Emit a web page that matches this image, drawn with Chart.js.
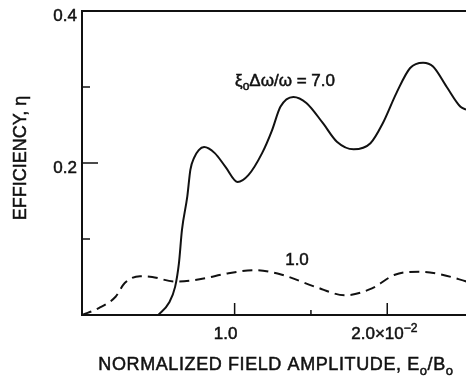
<!DOCTYPE html>
<html>
<head>
<meta charset="utf-8">
<script src="https://cdn.jsdelivr.net/npm/chart.js@4/dist/chart.umd.min.js"></script>
<style>
  html, body { margin: 0; padding: 0; background: #fff; }
  canvas { display: block; }
</style>
</head>
<body>
<canvas id="myChart" width="466" height="379"></canvas>
<script>
// field amplitude E0/B0 (x 10^-2) and efficiency for the two curves
const xHigh = [0.50, 0.57, 0.61, 0.635, 0.655, 0.69, 0.71, 0.735, 0.765, 0.80, 0.87, 0.94, 1.02, 1.09, 1.18, 1.245, 1.30, 1.385, 1.47, 1.58, 1.67, 1.78, 1.89, 1.97, 2.06, 2.15, 2.235, 2.30, 2.39, 2.48, 2.52]
const etaHigh = [0.0, 0.016, 0.037, 0.068, 0.112, 0.156, 0.191, 0.207, 0.217, 0.221, 0.213, 0.195, 0.175, 0.184, 0.213, 0.243, 0.274, 0.287, 0.279, 0.252, 0.228, 0.218, 0.226, 0.252, 0.292, 0.325, 0.332, 0.327, 0.300, 0.274, 0.270]

const xLow = [0.0, 0.11, 0.22, 0.28, 0.38, 0.46, 0.61, 0.77, 0.96, 1.14, 1.31, 1.53, 1.725, 1.90, 2.05, 2.21, 2.36, 2.52]
const etaLow = [0.0, 0.009, 0.024, 0.042, 0.051, 0.050, 0.044, 0.047, 0.055, 0.059, 0.053, 0.037, 0.026, 0.035, 0.053, 0.057, 0.053, 0.044]

// axis ticks
const yMajorTicks = [0.2, 0.4]
const yMajorLabels = ['0.2', '0.4']
const yMinorTicks = [0.1, 0.3]
const xMajorTicks = [1.0, 2.0]
const xMinorTicks = [1.5]

const FONT = '"Liberation Sans", Arial, sans-serif'

function toPoints(xs, ys) {
  return xs.map((x, i) => ({ x: x, y: ys[i] }))
}

// draws a run of text pieces, some of them sub/superscript
function drawParts(ctx, parts, x, y, align) {
  let total = 0
  parts.forEach(p => {
    ctx.font = p.size + 'px ' + FONT
    total += ctx.measureText(p.t).width
  })
  let cx = align === 'center' ? x - total / 2 : (align === 'right' ? x - total : x)
  ctx.textAlign = 'left'
  ctx.lineWidth = 0.5
  parts.forEach(p => {
    ctx.font = p.size + 'px ' + FONT
    ctx.fillText(p.t, cx, y + (p.dy || 0))
    ctx.strokeText(p.t, cx, y + (p.dy || 0))
    cx += ctx.measureText(p.t).width
  })
}

const frame = {
  id: 'frame',
  afterDraw(chart) {
    const ctx = chart.ctx
    const a = chart.chartArea
    const xs = chart.scales.x
    const ys = chart.scales.y
    ctx.save()
    ctx.strokeStyle = '#111'
    ctx.fillStyle = '#111'
    ctx.lineWidth = 2
    ctx.beginPath()
    ctx.moveTo(a.right, a.top); ctx.lineTo(a.left, a.top)
    ctx.lineTo(a.left, a.bottom); ctx.lineTo(a.right, a.bottom)
    ctx.stroke()

    // inward ticks
    ctx.lineWidth = 1.5
    ctx.beginPath()
    yMajorTicks.forEach(v => { const p = ys.getPixelForValue(v); ctx.moveTo(a.left, p); ctx.lineTo(a.left + 16, p) })
    yMinorTicks.forEach(v => { const p = ys.getPixelForValue(v); ctx.moveTo(a.left, p); ctx.lineTo(a.left + 8, p) })
    xMajorTicks.forEach(v => { const p = xs.getPixelForValue(v); ctx.moveTo(p, a.bottom); ctx.lineTo(p, a.bottom - 12) })
    xMinorTicks.forEach(v => { const p = xs.getPixelForValue(v); ctx.moveTo(p, a.bottom); ctx.lineTo(p, a.bottom - 5) })
    ctx.stroke()

    // tick labels
    ctx.textBaseline = 'alphabetic'
    yMajorTicks.forEach((v, i) => {
      drawParts(ctx, [{ t: yMajorLabels[i], size: 17 }], a.left - 5, ys.getPixelForValue(v) + 10, 'right')
    })
    const x1 = xs.getPixelForValue(xMajorTicks[0])
    const x2 = xs.getPixelForValue(xMajorTicks[1])
    drawParts(ctx, [{ t: '1.0', size: 17 }], x1 - 9, a.bottom + 24, 'center')
    drawParts(ctx, [{ t: '2.0\u00d710', size: 17 }, { t: '\u22122', size: 12, dy: -7 }], x2 - 36, a.bottom + 24, 'left')

    // axis titles
    ctx.letterSpacing = '0.6px'
    drawParts(ctx, [
      { t: 'NORMALIZED FIELD AMPLITUDE, E', size: 18 },
      { t: 'o', size: 13, dy: 5 },
      { t: '/B', size: 18 },
      { t: 'o', size: 13, dy: 5 }
    ], 276, 370, 'center')
    ctx.letterSpacing = '0px'

    ctx.save()
    ctx.translate(26, 158)
    ctx.rotate(-Math.PI / 2)
    drawParts(ctx, [{ t: 'EFFICIENCY, \u03b7', size: 18 }], 0, 0, 'center')
    ctx.restore()

    // curve labels
    drawParts(ctx, [
      { t: '\u03be', size: 17 },
      { t: 'o', size: 12, dy: 4 },
      { t: '\u0394\u03c9/\u03c9 = 7.0', size: 17 }
    ], 285, 86, 'center')
    drawParts(ctx, [{ t: '1.0', size: 17 }], 297, 265, 'center')
    ctx.restore()
  }
}

const ctx = document.getElementById('myChart').getContext('2d')

const myChart = new Chart(ctx, {
  type: 'line',
  data: {
    datasets: [{
      label: '7.0',
      data: toPoints(xHigh, etaHigh),
      borderColor: '#111',
      borderWidth: 2,
      pointRadius: 0,
      cubicInterpolationMode: 'monotone',
      fill: false
    }, {
      label: '1.0',
      data: toPoints(xLow, etaLow),
      borderColor: '#111',
      borderWidth: 2,
      borderDash: [10, 6],
      pointRadius: 0,
      cubicInterpolationMode: 'monotone',
      fill: false
    }]
  },
  options: {
    responsive: false,
    animation: false,
    devicePixelRatio: 1,
    layout: { padding: { left: 82, top: 11, right: 0, bottom: 64 } },
    plugins: { legend: { display: false }, tooltip: { enabled: false } },
    scales: {
      x: { type: 'linear', min: 0, max: 2.516, display: false },
      y: { min: 0, max: 0.4, display: false }
    }
  },
  plugins: [frame]
})
</script>
</body>
</html>
